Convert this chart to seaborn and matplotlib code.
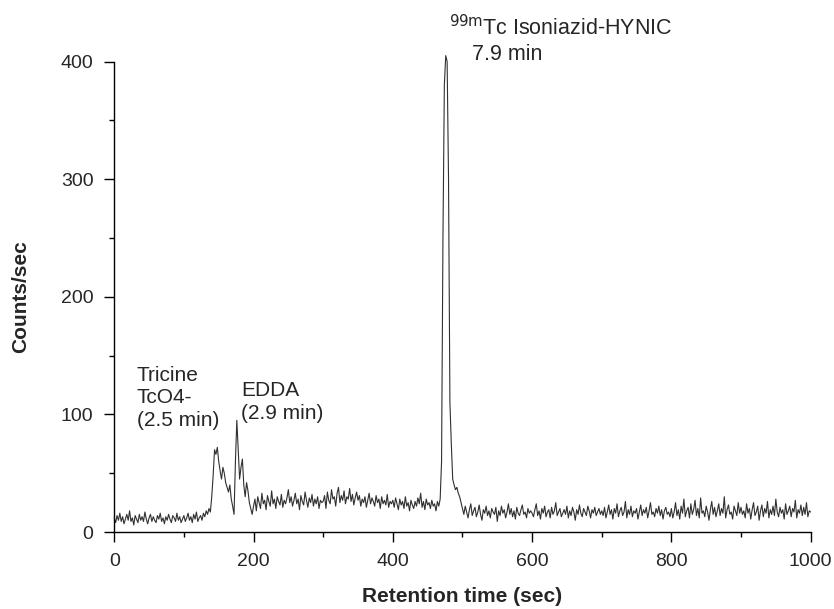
import numpy as np
import pandas as pd
import matplotlib
matplotlib.use("Agg")
import matplotlib.pyplot as plt
import seaborn as sns
from matplotlib.ticker import MultipleLocator

# radio-HPLC trace, one reading every 2 s (0 ... 1000 s)
step_sec = 2
counts = [
    # 0 - 98 s
    12, 8, 14, 10, 16, 9, 13, 7, 11, 15,
    10, 18, 9, 12, 6, 14, 11, 8, 15, 10,
    13, 9, 17, 11, 7, 12, 15, 9, 13, 10,
    8, 14, 11, 16, 9, 12, 7, 13, 10, 15,
    11, 8, 14, 12, 9, 16, 10, 13, 8, 11,
    # 100 - 198 s : TcO4- / tricine and EDDA peaks
    14, 9, 12, 16, 10, 13, 8, 15, 11, 17,
    9, 12, 14, 10, 16, 13, 18, 15, 20, 17,
    30, 48, 70, 66, 72, 60, 52, 45, 55, 50,
    42, 38, 34, 40, 28, 22, 15, 60, 95, 70,
    45, 55, 62, 40, 30, 42, 35, 25, 20, 15,
    # 200 - 298 s
    22, 28, 18, 30, 25, 20, 33, 24, 27, 19,
    31, 26, 22, 35, 24, 28, 20, 30, 26, 23,
    32, 21, 27, 24, 29, 36, 25, 30, 22, 27,
    33, 24, 28, 19, 31, 26, 23, 34, 27, 21,
    29, 25, 32, 22, 28, 24, 30, 20, 27, 25,
    # 300 - 398 s
    26, 31, 20, 34, 27, 24, 36, 28, 30, 22,
    33, 38, 25, 31, 27, 35, 24, 30, 28, 37,
    26, 32, 23, 29, 34, 27, 31, 22, 28, 25,
    30, 21, 27, 33, 24, 29, 26, 22, 31, 25,
    28, 20, 30, 24, 27, 23, 32, 21, 26, 24,
    # 400 - 498 s : 99mTc isoniazid-HYNIC peak
    27, 21, 29, 24, 19, 28, 23, 26, 20, 30,
    22, 25, 18, 27, 23, 20, 26, 22, 29, 24,
    33, 21, 26, 19, 28, 23, 25, 20, 27, 22,
    24, 18, 26, 22, 28, 60, 250, 380, 405, 400,
    300, 110, 75, 45, 40, 36, 38, 33, 30, 25,
    # 500 - 598 s
    20, 15, 22, 17, 12, 19, 24, 14, 18, 21,
    13, 17, 23, 15, 10, 19, 16, 22, 14, 18,
    12, 20, 17, 15, 21, 9, 18, 14, 22, 16,
    19, 12, 17, 24, 15, 20, 13, 18, 11, 21,
    16, 14, 19, 23, 15, 17, 12, 20, 16, 18,
    # 600 - 698 s
    16, 13, 19, 24, 14, 18, 11, 20, 16, 22,
    13, 17, 19, 12, 21, 15, 18, 25, 14, 17,
    20, 13, 16, 19, 15, 22, 12, 18, 14, 21,
    17, 10, 19, 15, 23, 16, 13, 20, 17, 14,
    22, 18, 12, 19, 16, 21, 14, 17, 20, 15,
    # 700 - 798 s
    18, 14, 21, 12, 17, 23, 15, 19, 11, 20,
    16, 24, 13, 18, 21, 14, 17, 26, 12, 19,
    15, 22, 13, 18, 16, 20, 11, 17, 23, 14,
    19, 16, 21, 12, 18, 25, 15, 17, 13, 20,
    16, 22, 14, 19, 11, 18, 21, 15, 17, 13,
    # 800 - 898 s
    20, 12, 17, 25, 14, 19, 11, 22, 16, 28,
    13, 18, 21, 12, 24, 15, 19, 27, 14, 20,
    12, 29, 16, 18, 13, 22, 17, 10, 19, 26,
    15, 21, 13, 18, 24, 14, 20, 16, 30, 12,
    19, 23, 15, 17, 11, 22, 18, 14, 25, 16,
    # 900 - 1000 s
    21, 15, 18, 12, 24, 16, 20, 11, 19, 25,
    14, 17, 22, 10, 18, 23, 13, 20, 16, 26,
    12, 19, 15, 22, 14, 28, 17, 13, 21, 16,
    19, 11, 24, 15, 18, 22, 13, 20, 17, 27,
    12, 19, 16, 23, 14, 21, 15, 25, 13, 18,
    17,
]
times = np.arange(len(counts)) * step_sec

df = pd.DataFrame({"time": times, "counts": counts})

sns.set_style("ticks")
plt.rcParams["font.family"] = ["Liberation Sans", "DejaVu Sans"]

fig = plt.figure(figsize=(8.34, 6.09), dpi=100)
ax = fig.add_axes([0.137, 0.1264, 0.835, 0.7726])

sns.lineplot(data=df, x="time", y="counts", ax=ax, color="#303030",
             linewidth=0.8, clip_on=False)

ax.set_xlim(0, 1000)
ax.set_ylim(0, 400)
ax.xaxis.set_major_locator(MultipleLocator(200))
ax.xaxis.set_minor_locator(MultipleLocator(100))
ax.yaxis.set_major_locator(MultipleLocator(100))
ax.yaxis.set_minor_locator(MultipleLocator(50))
ax.tick_params(which="major", length=7, width=1, labelsize=14, pad=8, color="black")
ax.tick_params(which="minor", length=3.5, width=1, color="black")
for s in ["top", "right"]:
    ax.spines[s].set_visible(False)
for s in ["left", "bottom"]:
    ax.spines[s].set_color("black")
    ax.spines[s].set_linewidth(1)

ax.set_xlabel("Retention time (sec)", fontsize=15, fontweight="bold", labelpad=12)
ax.set_ylabel("Counts/sec", fontsize=15, fontweight="bold", labelpad=22)

ax.text(32, 141, "Tricine\nTcO4-\n(2.5 min)", fontsize=15, va="top", ha="left",
        linespacing=1.22)
ax.text(182, 128, "EDDA\n(2.9 min)", fontsize=15, va="top", ha="left", linespacing=1.22)
ax.text(481, 422, r"$^{\mathrm{99m}}$Tc Isoniazid-HYNIC", fontsize=15.5,
        va="baseline", ha="left")
ax.text(514, 401, "7.9 min", fontsize=15.5, va="baseline", ha="left")

fig.savefig("out.png", dpi=100)
